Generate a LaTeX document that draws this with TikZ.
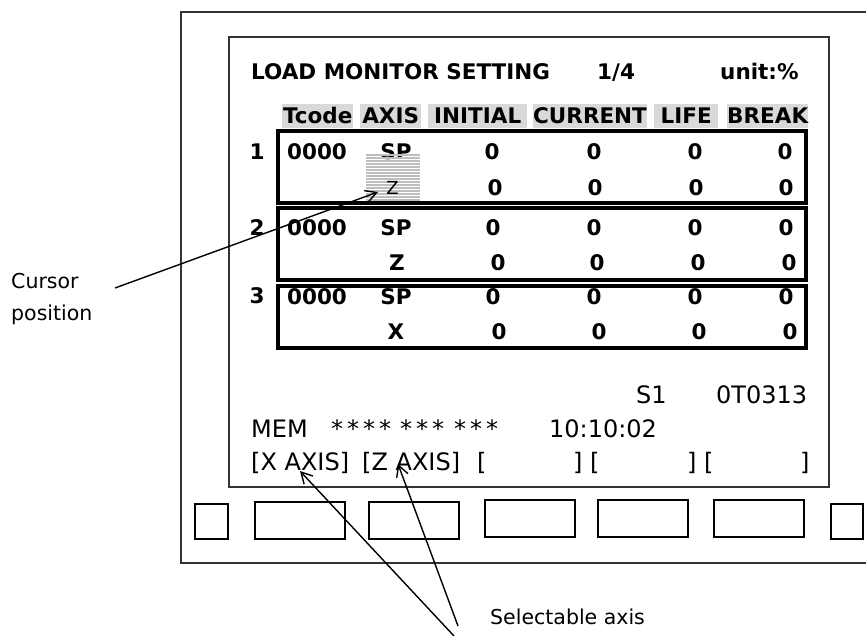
\documentclass[tikz,border=0pt]{standalone}
\usepackage{fontspec}
\setmainfont{DejaVu Sans}
\usetikzlibrary{arrows.meta}
\definecolor{hdrgray}{HTML}{D9D9D9}
\definecolor{hatchgray}{HTML}{BEBEBE}
\definecolor{framegray}{HTML}{333333}

\begin{document}
\begin{tikzpicture}[
    x=1pt, y=-1pt,
    >={Straight Barb[length=11pt,width=12pt]},
    txt/.style={inner sep=0, anchor=base west, font=\fontsize{24}{24}\selectfont},
    bold/.style={inner sep=0, anchor=base, font=\fontsize{21.5}{21.5}\selectfont\bfseries},
    hdr/.style={fill=hdrgray, inner sep=0, minimum height=24pt, text height=15.5pt, text depth=0pt, anchor=west, font=\fontsize{21.5}{21.5}\selectfont\bfseries},
    rowbox/.style={draw, line width=3.5pt},
    softkey/.style={draw, line width=1.8pt},
    callout/.style={inner sep=0, anchor=base west, font=\fontsize{20.5}{20.5}\selectfont},
    pointer/.style={->, line width=1.4pt}
]
\useasboundingbox (0,0) rectangle (866,636);

% housing and screen
\draw[framegray, line width=1.5pt] (866,12) -- (181,12) -- (181,563) -- (866,563);
\draw[framegray, line width=1.5pt] (229,37) rectangle (829,487);

% title line
\node[bold, anchor=base west] (title) at (251,80) {LOAD MONITOR SETTING};
\node[bold, anchor=base west] (page) at (597,80) {1/4};
\node[bold, anchor=base west] (unit) at (720,80) {unit:\%};

% column heads
\node[hdr, minimum width=71pt] (tcode) at (282,116) {Tcode};
\node[hdr, minimum width=61pt] (axis) at (360,116) {AXIS};
\node[hdr, minimum width=99pt] (initial) at (428,116) {INITIAL};
\node[hdr, minimum width=113pt] (current) at (533,116) {CURRENT};
\node[hdr, minimum width=64pt] (life) at (654,116) {LIFE\hspace{12pt}};
\node[hdr, minimum width=81pt] (break) at (727,116) {BREAK};

% tool groups
\draw[rowbox] (278,131) rectangle (806,203);
\draw[rowbox] (278,208) rectangle (806,280);
\draw[rowbox] (278,286) rectangle (806,348);

\node[bold] (n1) at (257,160) {1};
\node[bold] (n2) at (257,235) {2};
\node[bold] (n3) at (257,303) {3};

% group 1
\node[bold] (t1) at (317,160) {0000};
\node[bold] (sp1) at (396,160) {SP};
\foreach \x in {492,594,695,785} \node[bold] (a1\x) at (\x,160) {0};
\foreach \x in {495,595,696,786} \node[bold] (b1\x) at (\x,196) {0};

% group 2
\node[bold] (t2) at (317,235) {0000};
\node[bold] (sp2) at (396,235) {SP};
\node[bold] (z2) at (397,270) {Z};
\foreach \x in {493,594,695,786} \node[bold] (a2\x) at (\x,235) {0};
\foreach \x in {498,597,698,789} \node[bold] (b2\x) at (\x,270) {0};

% group 3
\node[bold] (t3) at (317,304) {0000};
\node[bold] (sp3) at (396,304) {SP};
\node[bold] (x3) at (396,339) {X};
\foreach \x in {493,594,695,786} \node[bold] (a3\x) at (\x,304) {0};
\foreach \x in {499,599,699,790} \node[bold] (b3\x) at (\x,339) {0};

% cursor
\foreach \y in {155,158,...,202} \draw[hatchgray, line width=2pt] (366,\y) -- (420,\y);
\node[inner sep=0, anchor=base, font=\fontsize{18}{18}\selectfont] (zcur) at (392.5,195) {Z};

% status lines
\node[txt] (spindle) at (636,403) {S1};
\node[txt] (prog) at (716,403) {0T0313};
\node[txt] (mode) at (251,437) {MEM};
\node[txt] (st1) at (331,437) {*\,*\,*\,*};
\node[txt] (st2) at (400,437) {*\,*\,*};
\node[txt] (st3) at (454,437) {*\,*\,*};
\node[txt] (clock) at (549,437) {10:10:02};

% soft key labels
\node[txt] (xkey) at (251,470) {[X AXIS]};
\node[txt] (zkey) at (362,470) {[Z AXIS]};
\node[txt] (key3) at (477,470) {[};
\node[txt] (key4) at (573,470) {] [};
\node[txt] (key5) at (687,470) {] [};
\node[txt] (key6) at (800,470) {]};

% soft keys
\draw[softkey] (195,504) rectangle (228,539);
\foreach \l/\t in {255/502,369/502,485/500,598/500,714/500}
    \draw[softkey] (\l,\t) rectangle ++(90,37);
\draw[softkey] (831,504) rectangle (863,539);

% callouts
\node[callout] (cur1) at (11,288) {Cursor};
\node[callout] (cur2) at (11,320) {position};
\coordinate (curfrom) at (115,288);
\coordinate (curtip) at (378,192);
\draw[pointer] (curfrom) -- (curtip);

\node[callout] (sel) at (490,624) {Selectable axis};
\coordinate (selA) at (454,636);
\coordinate (selB) at (458,626);
\coordinate (xtip) at (300,471);
\coordinate (ztip) at (398,464);
\draw[pointer] (selA) -- (xtip);
\draw[pointer] (selB) -- (ztip);
\end{tikzpicture}
\end{document}
